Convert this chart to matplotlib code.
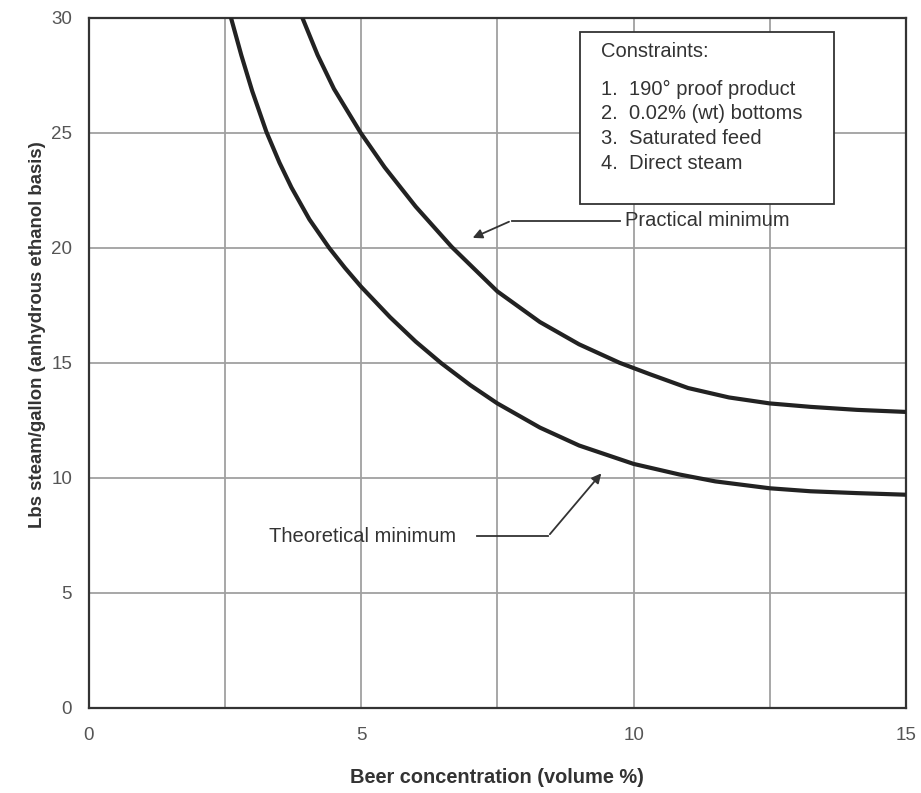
import matplotlib.pyplot as plt

# steam demand curves, lbs steam per gallon vs beer concentration
theo_x = [2.61, 2.8, 3.0, 3.26, 3.5, 3.72, 4.05, 4.41, 4.7, 5.0, 5.53, 6.0, 6.47, 7.0, 7.5,
          8.28, 9.0, 10.0, 10.84, 11.5, 12.5, 13.25, 14.1, 15.0]
theo_y = [30.0, 28.37, 26.81, 25.04, 23.7, 22.62, 21.23, 20.0, 19.13, 18.3, 16.98, 15.92, 14.98, 14.03, 13.23,
          12.18, 11.4, 10.6, 10.14, 9.84, 9.54, 9.41, 9.33, 9.26]

prac_x = [3.92, 4.2, 4.5, 4.99, 5.43, 6.0, 6.66, 7.5, 8.28, 9.0, 9.74, 10.3, 11.0, 11.75,
          12.5, 13.25, 14.1, 15.0]
prac_y = [30.0, 28.38, 26.91, 25.0, 23.5, 21.79, 20.04, 18.1, 16.77, 15.8, 15.0, 14.5, 13.9, 13.49,
          13.23, 13.08, 12.95, 12.86]

x_ticks = [0, 5, 10, 15]
y_ticks = [0, 5, 10, 15, 20, 25, 30]

constraints = ["1.  190° proof product",
               "2.  0.02% (wt) bottoms",
               "3.  Saturated feed",
               "4.  Direct steam"]

plt.rcParams['font.family'] = ['Liberation Sans', 'DejaVu Sans']

fig = plt.figure(figsize=(9.21, 7.93), dpi=100)
ax = fig.add_axes([0.0964, 0.1076, 0.8873, 0.87])

ax.plot(theo_x, theo_y, color='#222222', lw=3, solid_joinstyle='round', zorder=3)
ax.plot(prac_x, prac_y, color='#222222', lw=3, solid_joinstyle='round', zorder=3)

ax.set_xlim(0, 15)
ax.set_ylim(0, 30)
ax.set_xticks(x_ticks)
ax.set_yticks(y_ticks)
ax.set_xticks([2.5, 7.5, 12.5], minor=True)
ax.grid(True, which='both', color='#a0a0a0', lw=1.3)
ax.set_axisbelow(True)
ax.tick_params(which='both', length=0, labelsize=13.5, labelcolor='#555555')
ax.tick_params(axis='x', pad=14)
ax.tick_params(axis='y', pad=12)
for s in ax.spines.values():
    s.set_color('#333333')
    s.set_linewidth(1.6)

ax.set_xlabel('Beer concentration (volume %)', fontsize=14.4, fontweight='bold',
              color='#333333', labelpad=17)
ax.set_ylabel('Lbs steam/gallon (anhydrous ethanol basis)', fontsize=13.4, fontweight='bold',
              color='#333333')
ax.yaxis.set_label_coords(-0.052, 0.54)

# constraints box
box = plt.Rectangle((9.01, 21.9), 4.67, 7.5, facecolor='white', edgecolor='#333333', lw=1.3, zorder=4)
ax.add_patch(box)
ax.text(9.41, 28.55, 'Constraints:', fontsize=14.5, color='#333333', va='center', zorder=5)
for i, line in enumerate(constraints):
    ax.text(9.41, 26.9 - i * 1.08, line, fontsize=14.5, color='#333333', va='center', zorder=5)

# callouts
ax.text(9.84, 21.2, 'Practical minimum', fontsize=14.5, color='#333333', va='center')
ax.plot([9.75, 7.76], [21.18, 21.18], color='#333333', lw=1.3)
ax.annotate('', xy=(7.0, 20.38), xytext=(7.76, 21.18),
            arrowprops=dict(arrowstyle='-|>', color='#333333', lw=1.3, mutation_scale=14))

ax.text(3.30, 7.45, 'Theoretical minimum', fontsize=14.5, color='#333333', va='center')
ax.plot([7.12, 8.43], [7.45, 7.45], color='#333333', lw=1.3)
ax.annotate('', xy=(9.44, 10.28), xytext=(8.43, 7.45),
            arrowprops=dict(arrowstyle='-|>', color='#333333', lw=1.3, mutation_scale=14))

fig.savefig('out.png', dpi=100)
